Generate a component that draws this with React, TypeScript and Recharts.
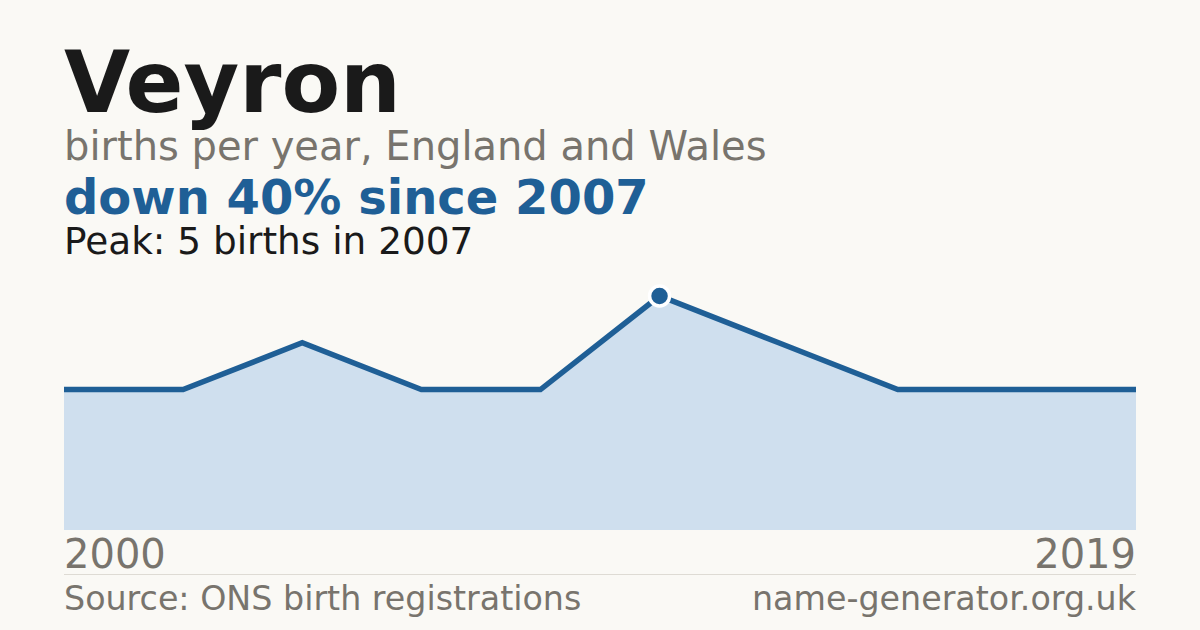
import { AreaChart, Area, XAxis, YAxis } from "recharts"

const years = ["2000", "2002", "2004", "2005", "2006", "2007", "2010", "2013", "2016", "2019"]
const births = [3, 3, 4, 3, 3, 5, 4, 3, 3, 3]

const data = years.map((year, i) => ({ year, births: births[i] }))

const blue = "#1f5f96"
const grey = "#78746d"
const ink = "#1a1a1a"
const font = "DejaVu Sans, sans-serif"

const peakIndex = births.indexOf(Math.max(...births))

function YearTick({ x, payload, index }: any) {
  const first = index === 0
  return (
    <text
      x={x}
      y={568}
      textAnchor={first ? "start" : "end"}
      fontFamily={font}
      fontSize={40}
      fill={grey}
    >
      {payload.value}
    </text>
  )
}

function PeakDot(props: any) {
  const { cx, cy, index } = props
  if (index !== peakIndex) return <g key={`d-${index}`} />
  return <circle key={`d-${index}`} cx={cx} cy={cy} r={10} fill={blue} stroke="#ffffff" strokeWidth={3.5} />
}

export default function App() {
  return (
    <div
      style={{
        position: "absolute",
        left: 0,
        top: 0,
        width: 1200,
        height: 630,
        background: "#faf9f5",
        overflow: "hidden",
      }}
    >
      <svg width={1200} height={630} style={{ position: "absolute", left: 0, top: 0 }}>
        <text x={64} y={112} fontFamily={font} fontWeight="bold" fontSize={85.5} fill={ink}>
          Veyron
        </text>
        <text x={64} y={160} fontFamily={font} fontSize={40} fill={grey}>
          births per year, England and Wales
        </text>
        <text x={64} y={214} fontFamily={font} fontWeight="bold" fontSize={48} fill={blue}>
          down 40% since 2007
        </text>
        <text x={64} y={254} fontFamily={font} fontSize={37.4} fill={ink}>
          Peak: 5 births in 2007
        </text>
        <line x1={64} x2={1136} y1={574.5} y2={574.5} stroke="#dedbd4" strokeWidth={1} />
        <text x={64} y={610} fontFamily={font} fontSize={33.3} fill={grey}>
          Source: ONS birth registrations
        </text>
        <text x={1136} y={610} textAnchor="end" fontFamily={font} fontSize={33.3} fill={grey}>
          name-generator.org.uk
        </text>
      </svg>
      <div style={{ position: "absolute", left: 0, top: 0 }}>
        <AreaChart
          width={1200}
          height={630}
          data={data}
          margin={{ top: 296, right: 64, bottom: 60, left: 64 }}
        >
          <YAxis hide domain={[0, 5]} />
          <XAxis
            dataKey="year"
            height={40}
            ticks={[years[0], years[years.length - 1]]}
            interval={0}
            tickLine={false}
            axisLine={false}
            tick={<YearTick />}
          />
          <Area
            type="linear"
            dataKey="births"
            stroke={blue}
            strokeWidth={5.5}
            fill="#cfdfee"
            fillOpacity={1}
            dot={PeakDot}
            activeDot={false}
            isAnimationActive={false}
          />
        </AreaChart>
      </div>
    </div>
  )
}
